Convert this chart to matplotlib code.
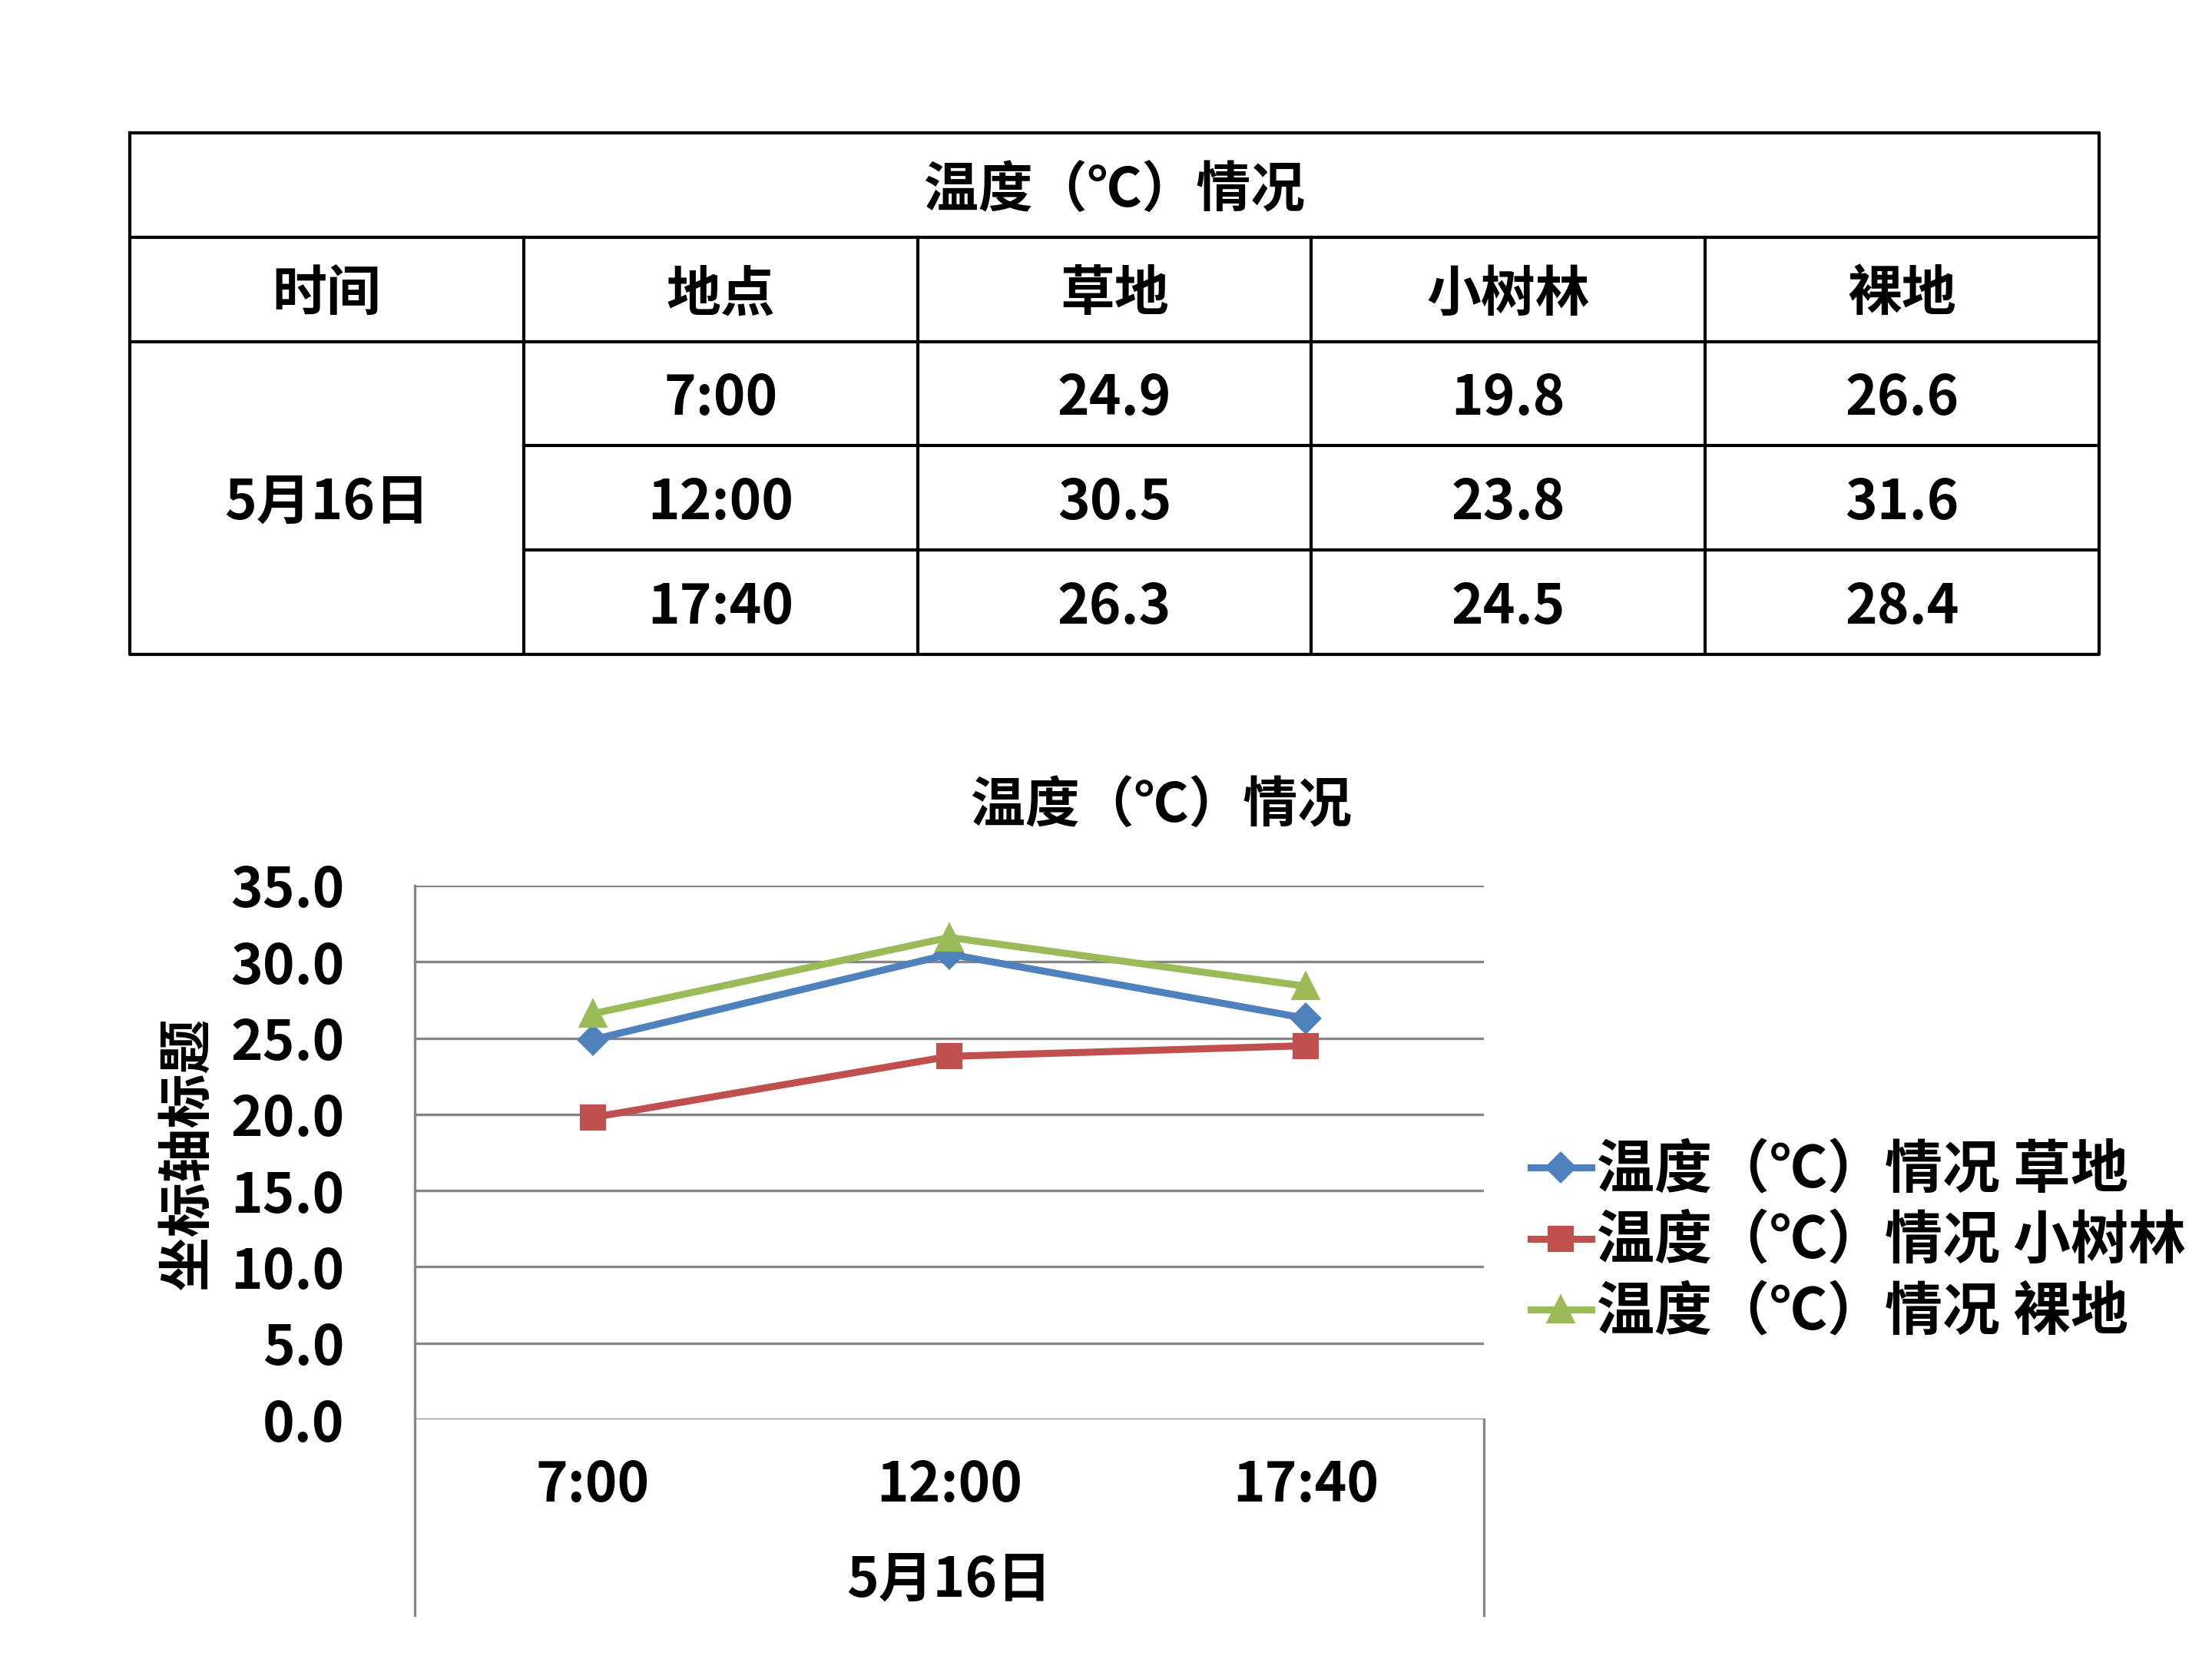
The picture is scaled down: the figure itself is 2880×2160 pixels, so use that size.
import matplotlib
matplotlib.use("Agg")
import matplotlib.pyplot as plt

plt.rcParams['font.family'] = ['Noto Sans CJK SC', 'DejaVu Sans']

# ---------------- data ----------------
title = "温度（℃）情况"
header = ["时间", "地点", "草地", "小树林", "裸地"]
date_label = "5月16日"
times = ["7:00", "12:00", "17:40"]
grass = [24.9, 30.5, 26.3]
grove = [19.8, 23.8, 24.5]
bare = [26.6, 31.6, 28.4]
series_names = ["草地", "小树林", "裸地"]
yticks = [0, 5, 10, 15, 20, 25, 30, 35]
ylabel = "坐标轴标题"

W, H = 2880, 2160
fig = plt.figure(figsize=(9.6, 7.2), dpi=300)
FW = 'bold'

def fx(px):
    return px / W

def fy(py):
    return 1 - py / H

# ---------------- table ----------------
tl, tr, tt, tb = 169, 2733, 173, 852
tax = fig.add_axes([fx(tl), fy(tb), fx(tr - tl), fy(tt) - fy(tb)])
tax.set_xlim(0, 5)
tax.set_ylim(5, 0)
tax.axis('off')
lc = '#000000'
lw = 1.0
tax.plot([0, 5, 5, 0, 0], [0, 0, 5, 5, 0], color=lc, lw=lw, clip_on=False)
tax.plot([0, 5], [1, 1], color=lc, lw=lw)
tax.plot([0, 5], [2, 2], color=lc, lw=lw)
tax.plot([1, 5], [3, 3], color=lc, lw=lw)
tax.plot([1, 5], [4, 4], color=lc, lw=lw)
for c in range(1, 5):
    tax.plot([c, c], [1, 5], color=lc, lw=lw)

tfs = 17
dy = 0.05
tax.text(2.5, 0.5 + dy, title, ha='center', va='center', fontsize=tfs, fontweight=FW)
for i, h in enumerate(header):
    tax.text(i + 0.5, 1.5 + dy, h, ha='center', va='center', fontsize=tfs, fontweight=FW)
tax.text(0.5, 3.5 + dy, date_label, ha='center', va='center', fontsize=tfs, fontweight=FW)
cols = [grass, grove, bare]
for r, t in enumerate(times):
    tax.text(1.5, 2.5 + r + dy, t, ha='center', va='center', fontsize=tfs, fontweight=FW)
    for c, vals in enumerate(cols):
        tax.text(2.5 + c, 2.5 + r + dy, f"{vals[r]:.1f}", ha='center', va='center',
                 fontsize=tfs, fontweight=FW)

# ---------------- chart ----------------
al, ar, at, ab = 540, 1932, 1153, 1848
ax = fig.add_axes([fx(al), fy(ab), fx(ar - al), fy(at) - fy(ab)])
x = list(range(len(times)))
grid_c = '#868686'
for v in yticks:
    ax.axhline(v, color=grid_c, lw=0.8, zorder=1)
for s in ax.spines.values():
    s.set_visible(False)
ext = (fy(2103) - fy(ab)) / (fy(at) - fy(ab))
ax.plot([0, 0], [1, ext], transform=ax.transAxes, color=grid_c, lw=0.8, clip_on=False)
ax.plot([1, 1], [0, ext], transform=ax.transAxes, color=grid_c, lw=0.8, clip_on=False)

colors = ['#4F81BD', '#C0504D', '#9BBB59']
markers = ['D', 's', '^']
msizes = [6, 7, 7.5]
for vals, col, m, ms, name in zip(cols, colors, markers, msizes, series_names):
    ax.plot(x, vals, color=col, lw=2.2, marker=m, markersize=ms,
            markeredgecolor=col, label=f"{title} {name}", zorder=3)

ax.set_xlim(-0.5, 2.5)
ax.set_ylim(0, 35)
ax.set_yticks(yticks)
ax.set_yticklabels([f"{v:.1f}" for v in yticks], fontsize=17, fontweight=FW)
ax.set_xticks(x)
ax.set_xticklabels(times, fontsize=17, fontweight=FW)
ax.tick_params(axis='y', length=0, pad=22)
ax.tick_params(axis='x', length=0, pad=12)
ax.text(0.5, (fy(2058) - fy(ab)) / (fy(at) - fy(ab)), date_label, transform=ax.transAxes,
        ha='center', va='center', fontsize=17, fontweight=FW)

fig.text(fx(1512), fy(1049), title, ha='center', va='center', fontsize=17, fontweight=FW)
fig.text(fx(244), fy(1502), ylabel, ha='center', va='center', rotation=90,
         fontsize=17, fontweight=FW)

leg = fig.legend(loc='center left', bbox_to_anchor=(fx(1993), fy(1617)),
                 frameon=False, handlelength=1.05, handletextpad=0.1,
                 labelspacing=0.22, borderaxespad=0, borderpad=0,
                 prop={'weight': FW, 'size': 18})

fig.savefig("out.png", dpi=300, facecolor='white')
